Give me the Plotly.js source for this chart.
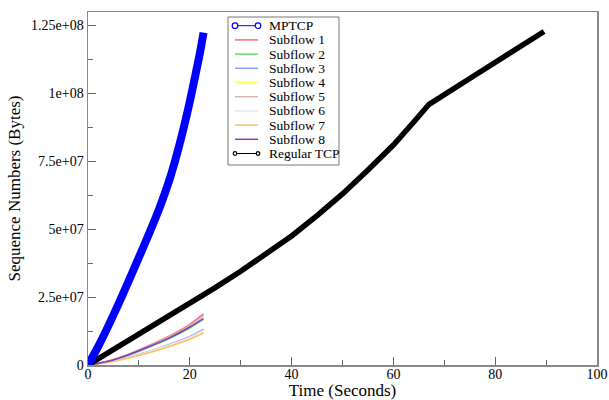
<!DOCTYPE html>
<html>
<head>
<meta charset="utf-8">
<script src="https://cdn.plot.ly/plotly-3.0.1.min.js"></script>
<style>html,body{margin:0;padding:0;background:#fff;}#chart{width:609px;height:400px;}</style>
</head>
<body>
<div id="chart"></div>
<script>
// ---- data ----
const mptcpTime = [0, 2, 4, 6, 8, 10, 12, 14, 16, 18, 20, 22, 22.7];
const mptcpSeq  = [0, 6.8e6, 1.44e7, 2.25e7, 3.10e7, 3.96e7, 4.84e7, 5.76e7, 6.82e7, 8.14e7, 9.70e7, 1.15e8, 1.224e8];

const subflowTime = [0, 4, 8, 12, 16, 20, 22.7];
const subflow1 = [0, 1.5e6, 4.0e6, 7.2e6, 1.07e7, 1.50e7, 1.88e7];
const subflow2 = [0, 1.3e6, 3.6e6, 6.5e6, 9.7e6, 1.36e7, 1.68e7];
const subflow3 = [0, 1.1e6, 2.9e6, 5.1e6, 7.6e6, 1.05e7, 1.32e7];
const subflow4 = [0, 1.0e6, 2.6e6, 4.6e6, 6.9e6, 9.6e6, 1.20e7];
const subflow5 = [0, 1.4e6, 3.9e6, 7.0e6, 1.04e7, 1.46e7, 1.82e7];
const subflow6 = [0, 1.1e6, 2.8e6, 5.0e6, 7.4e6, 1.02e7, 1.28e7];
const subflow7 = [0, 1.0e6, 2.6e6, 4.5e6, 6.8e6, 9.5e6, 1.18e7];
const subflow8 = [0, 1.4e6, 3.8e6, 6.8e6, 1.0e7, 1.40e7, 1.72e7];

const tcpTime = [0, 5, 10, 15, 20, 25, 30, 35, 40, 45, 50, 55, 60, 64, 67, 75, 89.6];
const tcpSeq  = [0, 5.6e6, 1.13e7, 1.69e7, 2.27e7, 2.85e7, 3.45e7, 4.08e7, 4.75e7, 5.5e7, 6.3e7, 7.18e7, 8.1e7, 8.95e7, 9.6e7, 1.055e8, 1.228e8];

const yTickVals = [0, 2.5e7, 5e7, 7.5e7, 1e8, 1.25e8];
const yTickText = ["0", "2.5e+07", "5e+07", "7.5e+07", "1e+08", "1.25e+08"];
const xTickVals = [0, 20, 40, 60, 80, 100];
const xTickText = ["0", "20", "40", "60", "80", "100"];

const subflowNames = ["Subflow 1","Subflow 2","Subflow 3","Subflow 4","Subflow 5","Subflow 6","Subflow 7","Subflow 8"];
const subflowData = [subflow1, subflow2, subflow3, subflow4, subflow5, subflow6, subflow7, subflow8];
const subflowColors = ["#ff6a6a","#66dd66","#8c9cff","#ffff40","#d9b3b3","#e6e6e6","#ffc070","#7a3fc0"];

const legendNames = ["MPTCP"].concat(subflowNames, ["Regular TCP"]);
const legendColors = ["#0000ff"].concat(subflowColors, ["#000000"]);

const SERIF = "Liberation Serif";

// ---- traces ----
const traces = [];
subflowData.forEach((d,i)=>{
  traces.push({x:subflowTime, y:d, name:subflowNames[i], mode:"lines", type:"scatter",
    line:{color:subflowColors[i], width:1.5, shape:"spline", smoothing:0.8}});
});
traces.push({x:tcpTime, y:tcpSeq, name:"Regular TCP", mode:"lines", type:"scatter",
  line:{color:"#000000", width:5.5}});
traces.push({x:mptcpTime, y:mptcpSeq, name:"MPTCP", mode:"lines", type:"scatter",
  line:{color:"#0000ff", width:8, shape:"spline", smoothing:0.6}});

// ---- legend box (drawn as shapes + annotations) ----
const plotL = 88, plotW = 509, plotB = 365, plotH = 353;
const px = v => (v - plotL) / plotW;
const py = v => (plotB - v) / plotH;
const rowGap = 14.2;
const shapes = [];
const annotations = [];
shapes.push({type:"rect", xref:"paper", yref:"paper", x0:px(228), x1:px(339), y0:py(165), y1:py(17),
  fillcolor:"#ffffff", line:{color:"#777", width:1}, layer:"above"});
legendNames.forEach((name,i)=>{
  const yy = py(25.7 + rowGap*i);
  const isMarked = (i===0 || i===legendNames.length-1);
  shapes.push({type:"line", xref:"paper", yref:"paper", x0:px(235), x1:px(258), y0:yy, y1:yy,
    line:{color:legendColors[i], width:isMarked?1:1.5}, layer:"above"});
  if(isMarked){
    const r = i===0 ? 2.8 : 1.8;
    [235, 258].forEach(cx=>{
      shapes.push({type:"circle", xref:"paper", yref:"paper", xsizemode:"pixel", ysizemode:"pixel",
        xanchor:px(cx), yanchor:yy, x0:-r, x1:r, y0:-r, y1:r,
        line:{color:legendColors[i], width:1.2}, fillcolor:"#ffffff", layer:"above"});
    });
  }
  annotations.push({xref:"paper", yref:"paper", x:px(267), y:yy, xanchor:"left", yanchor:"middle",
    text:name, showarrow:false, font:{family:SERIF, size:13.5, color:"#000"}});
});

const axisFont = {family:SERIF, size:14, color:"#000"};

const layout = {
  width:609, height:400,
  margin:{l:88, r:12, t:12, b:35},
  paper_bgcolor:"#fff", plot_bgcolor:"#fff",
  font:{family:SERIF, color:"#000"},
  showlegend:false,
  shapes:shapes, annotations:annotations,
  xaxis:{range:[0,100], tickmode:"array", tickvals:xTickVals, ticktext:xTickText,
    ticks:"inside", ticklen:8, tickwidth:1, tickcolor:"#666",
    minor:{dtick:10, ticks:"inside", ticklen:5, tickcolor:"#666"},
    showline:true, linecolor:"#888", linewidth:1.5, mirror:true,
    showgrid:false, zeroline:false, tickfont:axisFont, ticklabelstandoff:-4,
    title:{text:"Time (Seconds)", font:{family:SERIF, size:17, color:"#000"}, standoff:0}},
  yaxis:{range:[0,1.3e8], tickmode:"array", tickvals:yTickVals, ticktext:yTickText,
    ticks:"inside", ticklen:8, tickwidth:1, tickcolor:"#666",
    minor:{dtick:1.25e7, tick0:0, ticks:"inside", ticklen:5, tickcolor:"#666"},
    showline:true, linecolor:"#888", linewidth:1.5, mirror:true,
    showgrid:false, zeroline:false, tickfont:axisFont,
    title:{text:"Sequence Numbers (Bytes)", font:{family:SERIF, size:17, color:"#000"}, standoff:6}}
};

Plotly.newPlot("chart", traces, layout, {displayModeBar:false, staticPlot:true});
</script>
</body>
</html>
